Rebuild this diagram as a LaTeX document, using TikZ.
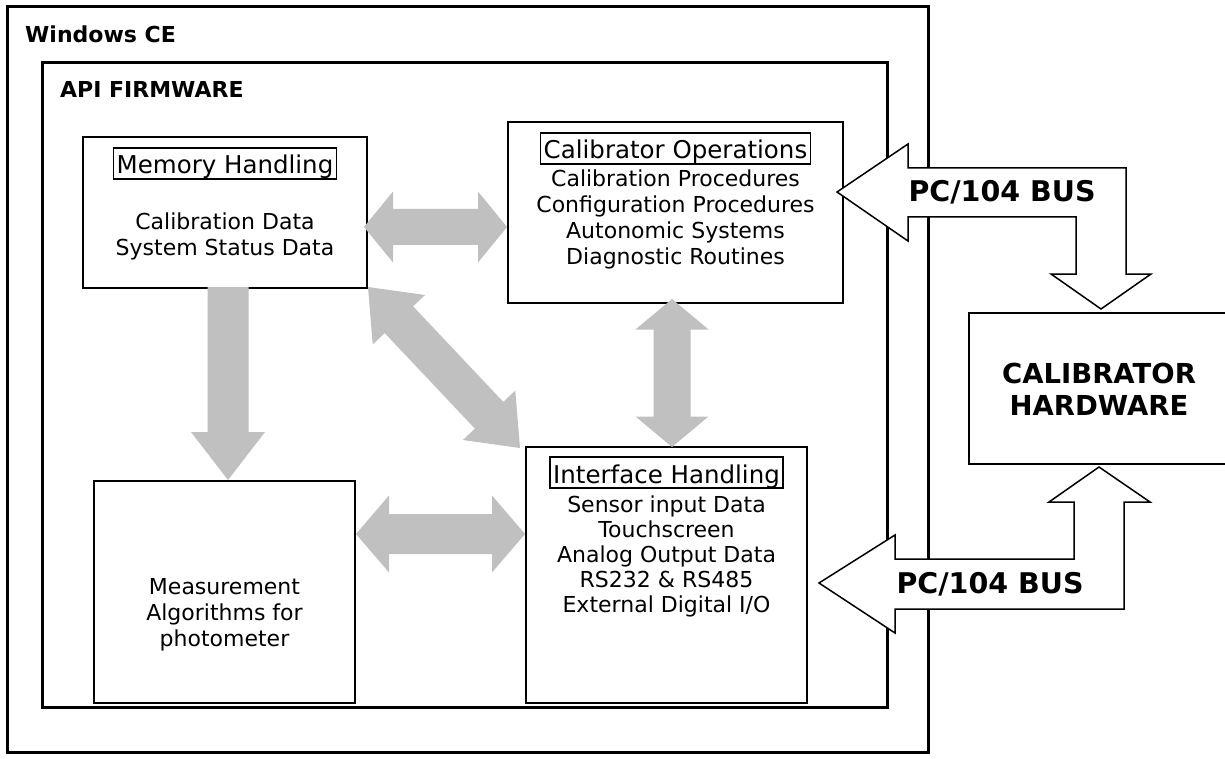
\documentclass[tikz,border=0pt]{standalone}
\usepackage{fontspec}
\setmainfont{DejaVu Sans}
\usetikzlibrary{calc}
\definecolor{arrowgray}{HTML}{C0C0C0}
\newcommand{\grayDA}[5]{%
 \fill[arrowgray] (#1) -- ($(#1)!#5!(#2)!#4!90:(#2)$) -- ($(#1)!#5!(#2)!#3!90:(#2)$)
  -- ($(#2)!#5!(#1)!#3!-90:(#1)$) -- ($(#2)!#5!(#1)!#4!-90:(#1)$) -- (#2)
  -- ($(#2)!#5!(#1)!#4!90:(#1)$) -- ($(#2)!#5!(#1)!#3!90:(#1)$)
  -- ($(#1)!#5!(#2)!#3!-90:(#2)$) -- ($(#1)!#5!(#2)!#4!-90:(#2)$) -- cycle;}
\newcommand{\graySA}[5]{%
 \fill[arrowgray] ($(#1)!#3!90:(#2)$) -- ($(#2)!#5!(#1)!#3!-90:(#1)$)
  -- ($(#2)!#5!(#1)!#4!-90:(#1)$) -- (#2)
  -- ($(#2)!#5!(#1)!#4!90:(#1)$) -- ($(#2)!#5!(#1)!#3!90:(#1)$)
  -- ($(#1)!#3!-90:(#2)$) -- cycle;}
\begin{document}
\begin{tikzpicture}[x=1pt,y=-1pt,
  frame/.style={draw,line width=3pt,inner sep=0pt,outer sep=0pt,anchor=north west},
  blockbox/.style={draw,line width=1.6pt,inner sep=0pt,outer sep=0pt,anchor=north west},
  titlebox/.style={draw,line width=1.5pt,inner xsep=3pt,inner ysep=0pt,text height=26pt,text depth=5pt,anchor=base,font=\fontsize{24.5}{26}\selectfont},
  bodytext/.style={align=center,anchor=base,inner sep=0pt,font=\fontsize{22}{25.5}\selectfont},
  headtext/.style={anchor=base west,inner sep=0pt,font=\bfseries\fontsize{22}{26}\selectfont},
  bustext/.style={anchor=base,inner sep=0pt,font=\bfseries\fontsize{28.5}{30}\selectfont},
  busarrow/.style={draw,fill=white,line width=1.5pt,line join=miter}]
\clip (0,0) rectangle (1225,759);
\fill[white] (0,0) rectangle (1225,759);

% frames
\node[frame,minimum width=921pt,minimum height=745pt] (win) at (7,7) {};
\node[frame,minimum width=845pt,minimum height=644pt] (api) at (42,63) {};
\node[headtext] (wcelabel) at (25,43) {Windows CE};
\node[headtext] (apilabel) at (60,98) {API FIRMWARE};

% blocks
\node[blockbox,minimum width=284pt,minimum height=151pt] (mem) at (83,137) {};
\node[blockbox,minimum width=335pt,minimum height=181pt] (cal) at (508,122) {};
\node[blockbox,minimum width=281pt,minimum height=256pt] (intf) at (526,447) {};
\node[blockbox,minimum width=261pt,minimum height=222pt] (meas) at (94,481) {};
\node[draw,line width=1.8pt,inner sep=0pt,outer sep=0pt,anchor=north west,minimum width=280pt,minimum height=151pt] (hw) at (969,313) {};

% block texts (multi-line nodes: base = baseline of last line)
\node[titlebox] (memtitle) at (225,174) {Memory Handling};
\node[bodytext] (membody) at (225,255) {Calibration Data\\System Status Data};
\node[titlebox] (caltitle) at (675.5,159) {Calibrator Operations};
\node[bodytext,font=\fontsize{22}{26}\selectfont] (calbody) at (675.5,265) {Calibration Procedures\\Configuration Procedures\\Autonomic Systems\\Diagnostic Routines};
\node[titlebox] (intftitle) at (666.5,483) {Interface Handling};
\node[bodytext,font=\fontsize{22}{25}\selectfont] (intfbody) at (666.5,612) {Sensor input Data\\Touchscreen\\Analog Output Data\\RS232 \& RS485\\External Digital I/O};
\node[bodytext,font=\fontsize{22}{26}\selectfont] (measbody) at (224.5,646) {Measurement\\Algorithms for\\photometer};
\node[bodytext,font=\bfseries\fontsize{27.5}{32}\selectfont] (hwtext) at (1099,415) {CALIBRATOR\\HARDWARE};

% gray connectors
\coordinate (memR) at (364,227);
\coordinate (calL) at (507,227);
\coordinate (memC) at (368,287);
\coordinate (intfC) at (520,448);
\coordinate (memB) at (228,287);
\coordinate (measT) at (228,480);
\coordinate (measR) at (356,534);
\coordinate (intfL) at (525,534);
\coordinate (calB) at (672,299);
\coordinate (intfT) at (672,447);
\grayDA{memR}{calL}{18pt}{35.5pt}{29pt}
\grayDA{memC}{intfC}{19.5pt}{36pt}{45pt}
\graySA{memB}{measT}{20.5pt}{37pt}{48pt}
\grayDA{measR}{intfL}{20pt}{38.5pt}{33pt}
\grayDA{calB}{intfT}{18.5pt}{36.5pt}{30.5pt}

% PC/104 bus arrows
\draw[busarrow] (837,192) -- (908,144) -- (908,168) -- (1126,168) -- (1126,274) -- (1151,274)
  -- (1101,309) -- (1051,274) -- (1076,274) -- (1076,217) -- (908,217) -- (908,241) -- cycle;
\draw[busarrow] (819,583) -- (895,535) -- (895,559) -- (1074,559) -- (1074,502) -- (1049,502)
  -- (1099,467) -- (1150,502) -- (1124,502) -- (1124,609) -- (895,609) -- (895,633) -- cycle;
\node[bustext] (bus1) at (1002,202) {PC/104 BUS};
\node[bustext] (bus2) at (990,593) {PC/104 BUS};
\end{tikzpicture}
\end{document}
